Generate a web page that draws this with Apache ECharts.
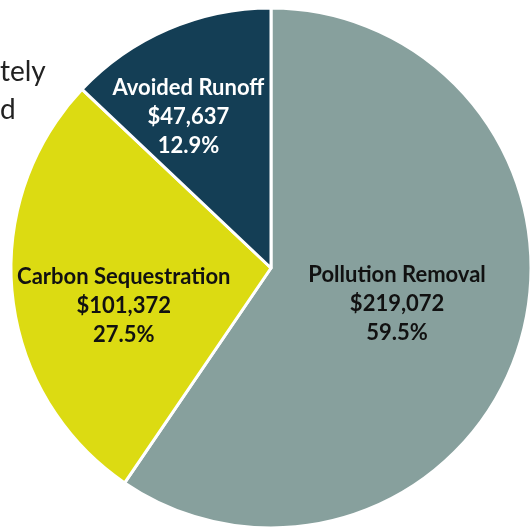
<!DOCTYPE html>
<html>
<head>
<meta charset="utf-8">
<script src="https://cdn.jsdelivr.net/npm/echarts@6/dist/echarts.min.js"></script>
<style>html,body{margin:0;padding:0;background:#fff}#c{width:530px;height:529px}</style>
</head>
<body>
<div id="c"></div>
<script>
var categories = ['Pollution Removal', 'Carbon Sequestration', 'Avoided Runoff'];
var values = [219072, 101372, 47637];
var colors = ['#87A09D', '#DCDB12', '#143E55'];
var labelColors = ['#111111', '#111111', '#FFFFFF'];
var labelOffsets = [[-1, -3], [-15, 24], [-30, -29]];
var sideText = ['tely', 'd'];

var total = values.reduce(function (a, b) { return a + b; }, 0);
var chart = echarts.init(document.getElementById('c'), null, {renderer: 'canvas'});
var data = categories.map(function (name, i) {
  return {
    name: name,
    value: values[i],
    itemStyle: {color: colors[i]},
    label: {color: labelColors[i], offset: labelOffsets[i]}
  };
});
chart.setOption({
  animation: false,
  backgroundColor: '#fff',
  graphic: [
    {type: 'text', left: 0, top: 58, style: {text: sideText[0], font: '28px Lato', fill: '#222222'}},
    {type: 'text', left: 0, top: 96, style: {text: sideText[1], font: '28px Lato', fill: '#222222'}}
  ],
  series: [{
    type: 'pie',
    center: [271, 268],
    radius: [0, 260],
    startAngle: 90,
    clockwise: true,
    avoidLabelOverlap: false,
    itemStyle: {borderColor: '#fff', borderWidth: 3},
    labelLine: {show: false},
    label: {
      show: true,
      position: 'inside',
      fontFamily: 'Lato',
      fontWeight: 'bold',
      fontSize: 22,
      lineHeight: 29,
      align: 'center',
      formatter: function (p) {
        return p.name + '\n$' + p.value.toLocaleString('en-US') + '\n' + (p.value / total * 100).toFixed(1) + '%';
      }
    },
    emphasis: {disabled: true},
    data: data
  }]
});
</script>
</body>
</html>
